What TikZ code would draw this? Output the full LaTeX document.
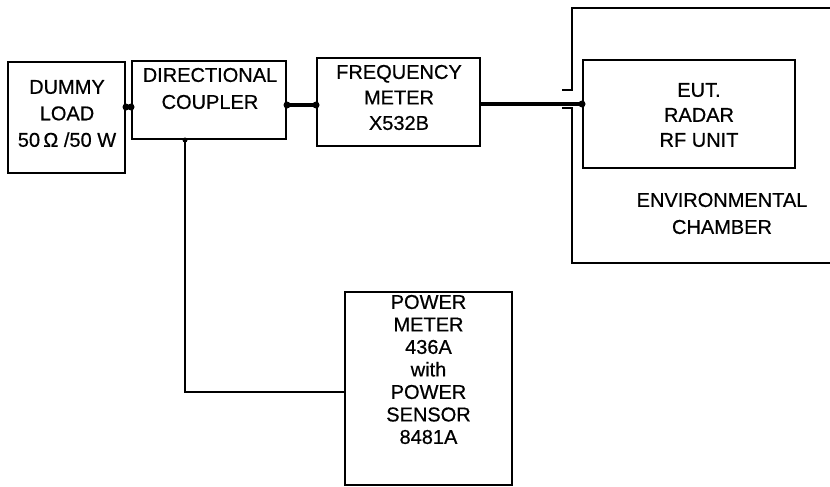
\documentclass[tikz,border=0pt]{standalone}
\usepackage{fontspec}
\setmainfont{Liberation Sans}[FakeBold=0.6]
\begin{document}
\begin{tikzpicture}[x=1pt,y=-1pt,
  box/.style={draw,line width=2pt,rectangle,inner sep=0pt},
  lbl/.style={align=center,inner sep=0pt,font=\fontsize{20}{25.5}\selectfont},
  wire/.style={line width=2pt},
  thick wire/.style={line width=4.5pt},
  jdot/.style={circle,fill,inner sep=0pt,minimum size=7pt}]
\useasboundingbox (0,0) rectangle (830,487);
% boxes
\node[box,minimum width=117pt,minimum height=111pt] (dummy) at (66.5,117.5) {};
\node[box,minimum width=154pt,minimum height=78pt] (coupler) at (209,100) {};
\node[box,minimum width=163pt,minimum height=88pt] (freq) at (398.5,102) {};
\node[box,minimum width=212pt,minimum height=108pt] (eut) at (689,114) {};
\node[box,minimum width=167pt,minimum height=193pt] (power) at (428.5,388.5) {};
% labels
\node[lbl,font=\fontsize{20}{26.5}\selectfont] (tdummy) at (67,113.5) {DUMMY\\LOAD\\50\,Ω /50 W};
\node[lbl,font=\fontsize{20}{27}\selectfont] (tcoupler) at (210,88.5) {DIRECTIONAL\\COUPLER};
\node[lbl] (tfreq) at (399,97.5) {FREQUENCY\\METER\\X532B};
\node[lbl,font=\fontsize{20}{25}\selectfont] (teut) at (699,115) {EUT.\\RADAR\\RF UNIT};
\node[lbl,font=\fontsize{20}{27}\selectfont] (tenv) at (722,213.5) {ENVIRONMENTAL\\CHAMBER};
\node[lbl,font=\fontsize{20}{22.5}\selectfont] (tpower) at (428.5,369.5) {POWER\\METER\\436A\\with\\POWER\\SENSOR\\8481A};
% chamber walls
\coordinate (ctl) at (572,8);
\coordinate (cbl) at (572,263);
\draw[wire] (830,8) -- (ctl) -- (572,90) -- (562,90);
\draw[wire] (562,108) -- (572,108) -- (cbl) -- (830,263);
% connectors
\draw[wire] (dummy.east |- 0,107) -- (coupler.west |- 0,107);
\node[jdot] (j1) at (dummy.east |- 0,107) {};
\node[jdot] (j2) at (coupler.west |- 0,107) {};
\draw[thick wire] (coupler.east |- 0,105) -- (freq.west |- 0,105);
\node[jdot] (j3) at (coupler.east |- 0,105) {};
\node[jdot] (j4) at (freq.west |- 0,105) {};
\draw[thick wire] (freq.east |- 0,104) -- (eut.west |- 0,104);
\node[jdot] (j5) at (eut.west |- 0,104) {};
\draw[wire] (coupler.south -| 185,0) |- (power.west |- 0,392);
\node[jdot,minimum size=5pt] (j6) at (coupler.south -| 185,0) {};
\end{tikzpicture}
\end{document}
